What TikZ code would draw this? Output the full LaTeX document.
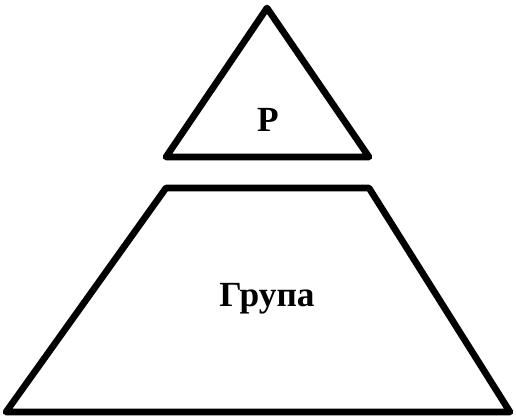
\documentclass[tikz,border=0pt]{standalone}
\usepackage{fontspec}
\setmainfont{Liberation Serif}
\begin{document}
\begin{tikzpicture}[x=0.75pt,y=-0.75pt,
  shapeline/.style={draw=black,line width=5pt,line join=round},
  lbl/.style={font=\fontsize{26.5}{30}\selectfont\bfseries,anchor=base}]
\useasboundingbox (0,0) rectangle (516,417);
\draw[shapeline] (267,8) -- (369,157) -- (166,157) -- cycle;
\draw[shapeline] (166,188) -- (369,188) -- (510,412) -- (6,412) -- cycle;
\node[lbl] (p) at (268,131) {Р};
\node[lbl] (g) at (267,306) {Група};
\end{tikzpicture}
\end{document}
